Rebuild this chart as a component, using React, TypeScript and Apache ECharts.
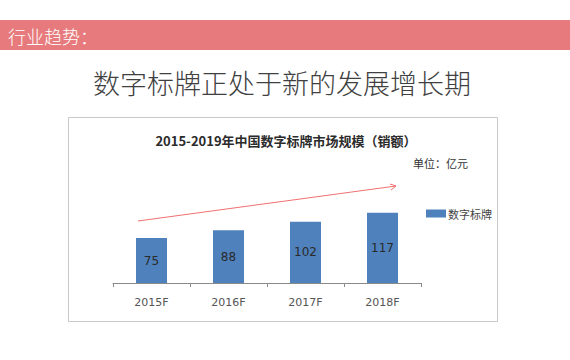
import React, { useEffect, useRef } from "react";
import * as echarts from "echarts";

const categories = ["2015F", "2016F", "2017F", "2018F"];
const values = [75, 88, 102, 117];
const seriesName = "数字标牌";
const headerText = "行业趋势：";
const mainTitle = "数字标牌正处于新的发展增长期";
const chartTitle = "2015-2019年中国数字标牌市场规模（销额）";
const unitText = "单位：亿元";

const CJK = '"Noto Sans CJK SC", "Noto Sans", sans-serif';

export default function App() {
  const ref = useRef<HTMLDivElement>(null);
  useEffect(() => {
    document.body.style.margin = "0";
    const chart = echarts.init(ref.current!, null, { renderer: "svg" });
    chart.setOption({
      animation: false,
      backgroundColor: "#ffffff",
      textStyle: { fontFamily: CJK },
      title: {
        text: chartTitle,
        left: 281,
        top: 129,
        textAlign: "center",
        textStyle: { fontSize: 13, fontWeight: "bold", color: "#2b2b2b", fontFamily: CJK },
      },
      legend: {
        left: 421,
        top: 203,
        itemWidth: 20,
        itemHeight: 8,
        itemGap: 2,
        icon: "rect",
        textStyle: { fontSize: 11, color: "#444", fontFamily: CJK, padding: [0, 0, 0, -3] },
        data: [seriesName],
      },
      grid: { left: 113, top: 193, width: 308, height: 90 },
      xAxis: {
        type: "category",
        data: categories,
        axisLine: { lineStyle: { color: "#8a8a8a", width: 1 } },
        axisTick: { show: true, length: 4, lineStyle: { color: "#8a8a8a" } },
        axisLabel: { fontSize: 11, color: "#555", margin: 14, fontFamily: '"DejaVu Sans", sans-serif' },
      },
      yAxis: {
        type: "value",
        min: 0,
        max: 150,
        show: false,
        splitLine: { show: false },
      },
      series: [
        {
          name: seriesName,
          type: "bar",
          data: values,
          barWidth: 31,
          itemStyle: { color: "#4f81bd" },
          label: {
            show: true,
            position: "inside",
            fontSize: 12,
            color: "#2a2a2a",
            fontFamily: '"DejaVu Sans", sans-serif',
          },
        },
      ],
      graphic: [
        {
          type: "rect",
          shape: { x: 0, y: 20, width: 570, height: 30 },
          style: { fill: "#e77a7c" },
        },
        {
          type: "text",
          x: 8,
          y: 36,
          style: {
            text: headerText,
            fill: "#ffffff",
            fontSize: 18,
            fontFamily: CJK,
            fontWeight: 300,
            verticalAlign: "middle",
          },
        },
        {
          type: "text",
          x: 282,
          y: 82,
          style: {
            text: mainTitle,
            fill: "#404040",
            fontSize: 27,
            fontFamily: CJK,
            fontWeight: 300,
            align: "center",
            verticalAlign: "middle",
          },
        },
        {
          type: "rect",
          shape: { x: 68.5, y: 117.5, width: 429, height: 204 },
          style: { fill: "none", stroke: "#c8c8c8", lineWidth: 1 },
          z: -1,
        },
        {
          type: "text",
          x: 413,
          y: 163,
          style: {
            text: unitText,
            fill: "#333",
            fontSize: 11,
            fontFamily: CJK,
            verticalAlign: "middle",
          },
        },
        {
          type: "line",
          shape: { x1: 138, y1: 221, x2: 396, y2: 186 },
          style: { stroke: "#f07070", lineWidth: 1 },
        },
        {
          type: "polyline",
          shape: { points: [[390, 184], [396, 186], [391, 190]] },
          style: { stroke: "#f07070", lineWidth: 1, fill: "none" },
        },
      ],
    });
    return () => chart.dispose();
  }, []);
  return <div ref={ref} style={{ width: 570, height: 360 }} />;
}
